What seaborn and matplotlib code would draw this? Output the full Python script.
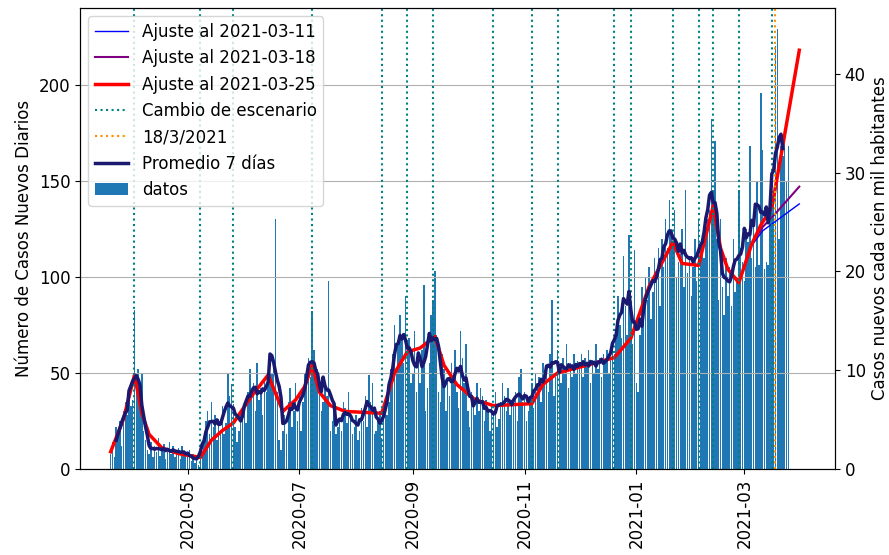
import pandas as pd
import matplotlib
matplotlib.use('Agg')
import matplotlib.pyplot as plt
import matplotlib.dates as mdates
import seaborn as sns

# casos diarios, del 2020-03-20 al 2021-03-25
casos_mar20 = [8, 14, 6, 22, 18, 25, 12, 30, 35, 28, 40, 33]
casos_abr20 = [36, 83, 48, 52, 38, 50, 20, 15, 10, 8, 14, 6, 12, 9, 16, 7, 11, 13, 5, 9,
               14, 8, 12, 6, 10, 11, 5, 12, 8, 9]
casos_may20 = [7, 10, 4, 8, 3, 6, 2, 5, 9, 14, 25, 30, 18, 35, 22, 28, 15, 26, 20, 33,
               18, 24, 50, 38, 44, 34, 22, 14, 20, 28, 32]
casos_jun20 = [35, 24, 40, 52, 38, 45, 30, 55, 36, 42, 28, 46, 40, 45, 50, 50, 58, 130, 40, 15,
               10, 20, 28, 18, 35, 42, 22, 30, 45, 25]
casos_jul20 = [38, 20, 35, 50, 44, 58, 48, 82, 62, 45, 52, 40, 30, 35, 42, 38, 98, 20, 25, 30,
               18, 22, 25, 20, 35, 32, 24, 40, 30, 18, 22]
casos_ago20 = [28, 15, 20, 32, 25, 38, 22, 49, 35, 45, 18, 20, 25, 30, 16, 28, 30, 28, 35, 52,
               60, 75, 52, 65, 80, 70, 55, 90, 62, 68, 45]
casos_sep20 = [50, 72, 40, 58, 45, 62, 96, 30, 42, 55, 80, 88, 103, 70, 40, 35, 60, 52, 30, 45,
               38, 55, 48, 62, 40, 32, 72, 58, 45, 65]
casos_oct20 = [30, 22, 40, 35, 28, 45, 30, 42, 38, 25, 36, 30, 20, 34, 28, 40, 22, 26, 35, 45,
               38, 30, 42, 28, 36, 33, 40, 25, 48, 52, 35]
casos_nov20 = [40, 25, 30, 38, 45, 32, 50, 42, 48, 35, 55, 45, 52, 40, 60, 88, 38, 48, 62, 50,
               45, 58, 52, 65, 42, 55, 48, 60, 50, 56]
casos_dic20 = [52, 60, 48, 58, 55, 62, 45, 57, 50, 65, 52, 58, 48, 60, 55, 62, 50, 58, 66, 60,
               72, 90, 75, 68, 111, 85, 70, 122, 80, 65, 114]
casos_ene21 = [45, 40, 70, 95, 82, 100, 88, 105, 78, 92, 110, 98, 115, 85, 120, 105, 130, 115, 140, 125,
               118, 135, 100, 108, 112, 125, 95, 145, 102, 110, 90]
casos_feb21 = [105, 120, 98, 130, 115, 118, 110, 125, 130, 135, 182, 145, 171, 120, 88, 130, 95, 80, 110, 90,
               105, 85, 120, 92, 100, 145, 115, 108]
casos_mar21 = [98, 125, 118, 168, 110, 130, 105, 150, 106, 196, 166, 104, 108, 106, 140, 135, 138, 220, 229, 120,
               168, 163, 170, 150, 168]

# ajustes por tramos
fechas_aj25 = ["2020-03-20", "2020-03-27", "2020-04-02", "2020-04-06", "2020-04-10", "2020-04-17",
               "2020-04-26", "2020-05-08", "2020-05-14", "2020-05-20", "2020-05-26", "2020-06-05",
               "2020-06-14", "2020-06-22", "2020-06-29", "2020-07-04", "2020-07-08", "2020-07-12",
               "2020-07-18", "2020-07-26", "2020-08-15", "2020-08-22", "2020-08-29", "2020-09-05",
               "2020-09-13", "2020-09-18", "2020-09-25", "2020-10-05", "2020-10-15", "2020-11-05",
               "2020-11-11", "2020-11-19", "2020-12-05", "2020-12-20", "2020-12-29", "2021-01-08",
               "2021-01-21", "2021-01-26", "2021-02-04", "2021-02-12", "2021-02-16", "2021-02-20",
               "2021-02-26", "2021-03-05", "2021-03-10", "2021-03-16", "2021-03-21", "2021-03-31"]
valores_aj25 = [9, 26, 49, 29, 18, 11,
                8, 6, 15, 20, 24, 38,
                49, 30, 36, 43, 54, 40,
                33, 30, 29, 50, 61, 63,
                69, 54, 44, 36, 33, 34,
                44, 50, 54, 58, 68, 95,
                118, 107, 106, 137, 115, 104,
                97, 117, 127, 136, 163, 218]

fechas_aj11 = ["2021-02-26", "2021-03-04", "2021-03-11", "2021-03-31"]
valores_aj11 = [97, 115, 124, 138]
fechas_aj18 = ["2021-02-26", "2021-03-05", "2021-03-11", "2021-03-18", "2021-03-31"]
valores_aj18 = [97, 117, 126, 133, 147]

cambios = ["2020-04-02", "2020-05-08", "2020-05-26", "2020-07-08", "2020-08-15", "2020-08-29",
           "2020-09-12", "2020-10-15", "2020-11-05", "2020-11-19", "2020-12-20", "2020-12-29",
           "2021-01-21", "2021-02-04", "2021-02-12", "2021-02-26", "2021-03-16"]
fecha_ref = "2021-03-18"
poblacion = 514300

casos = (casos_mar20 + casos_abr20 + casos_may20 + casos_jun20 + casos_jul20 + casos_ago20
         + casos_sep20 + casos_oct20 + casos_nov20 + casos_dic20 + casos_ene21 + casos_feb21
         + casos_mar21)
fechas = pd.date_range("2020-03-20", periods=len(casos), freq="D")
promedio = pd.Series(casos, index=fechas).rolling(7, center=True).mean()

plt.rcParams['font.size'] = 12

fig = plt.figure(figsize=(8.89, 5.55), dpi=100)
ax = fig.add_axes([80 / 889, 1 - 469 / 555, 755 / 889, 461 / 555])

ax.bar(fechas, casos, width=0.8, color='#1f77b4', label='datos')

sns.lineplot(x=pd.to_datetime(fechas_aj11), y=valores_aj11, ax=ax,
             color='blue', lw=1, label='Ajuste al 2021-03-11')
sns.lineplot(x=pd.to_datetime(fechas_aj18), y=valores_aj18, ax=ax,
             color='purple', lw=1.5, label='Ajuste al 2021-03-18')
sns.lineplot(x=pd.to_datetime(fechas_aj25), y=valores_aj25, ax=ax,
             color='red', lw=2.5, label='Ajuste al 2021-03-25')

for i, f in enumerate(cambios):
    ax.axvline(pd.Timestamp(f), color='teal', ls=':', lw=1.5,
               label='Cambio de escenario' if i == 0 else '_nolegend_')
ax.axvline(pd.Timestamp(fecha_ref), color='darkorange', ls=':', lw=1.5, label='18/3/2021')

sns.lineplot(x=promedio.index, y=promedio.values, ax=ax,
             color='midnightblue', lw=2.5, label='Promedio 7 días')

ax.set_xlim(pd.Timestamp('2020-03-03 06:00'), pd.Timestamp('2021-04-19 12:00'))
ax.set_ylim(0, 240)
ax.xaxis.set_major_locator(mdates.MonthLocator(bymonth=[1, 3, 5, 7, 9, 11]))
ax.xaxis.set_major_formatter(mdates.DateFormatter('%Y-%m'))
ax.tick_params(axis='x', labelrotation=90)
ax.grid(axis='y')
ax.set_ylabel('Número de Casos Nuevos Diarios')
ax.set_xlabel('')
ax.legend(loc='upper left', fontsize=12)

ax2 = ax.twinx()
ax2.set_ylim(0, 240 * 100000 / poblacion)
ax2.set_ylabel('Casos nuevos cada cien mil habitantes')

fig.savefig('out.png', dpi=100)
